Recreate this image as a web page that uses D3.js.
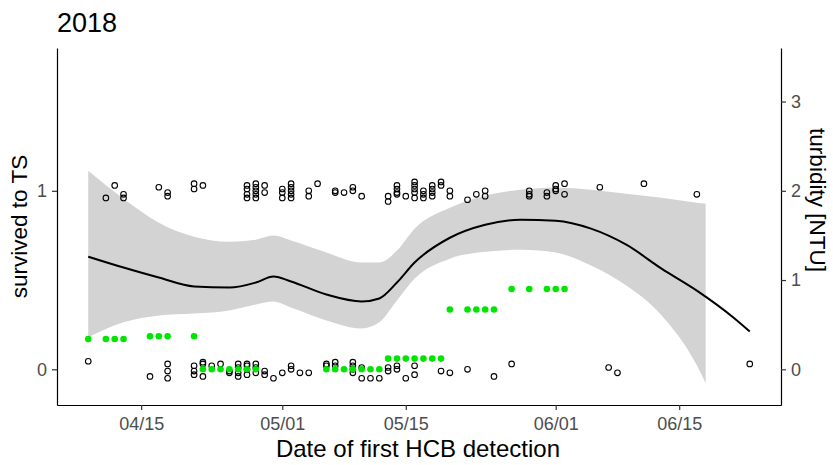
<!DOCTYPE html>
<html>
<head>
<meta charset="utf-8">
<script src="https://cdn.jsdelivr.net/npm/d3@7"></script>
<style>
  body { margin: 0; background: #fff; }
  text { font-family: "Liberation Sans", Arial, sans-serif; }
</style>
</head>
<body>
<div id="chart"></div>
<script>
// survival points (open circles), date + jittered value
var survDate = [
  "04-11","04-12","04-13","04-13","04-17","04-18","04-18","04-21","04-21","04-22",
  "04-27","04-27","04-27","04-27","04-28","04-28","04-28","04-28","04-28",
  "04-29","04-29","05-01","05-01","05-01","05-02","05-02","05-02","05-02","05-02",
  "05-04","05-04","05-05","05-07","05-07","05-08","05-09","05-09","05-10",
  "05-13","05-13","05-14","05-14","05-14","05-14","05-15",
  "05-16","05-16","05-16","05-16","05-16","05-17","05-17","05-17",
  "05-18","05-18","05-18","05-18","05-19","05-19","05-20","05-20",
  "05-22","05-23","05-24","05-24","05-29","05-29","05-29","05-31","05-31",
  "06-01","06-01","06-01","06-02","06-02","06-06","06-11","06-17",
  // zeros
  "04-09","04-16","04-18","04-18","04-18","04-21","04-21","04-21","04-22","04-22","04-22",
  "04-23","04-24","04-25","04-25","04-26","04-26","04-26","04-26",
  "04-27","04-27","04-27","04-27","04-28","04-28","04-28","04-29","04-29",
  "04-30","05-01","05-02","05-02","05-03","05-04","05-06","05-06","05-07","05-07",
  "05-09","05-09","05-09","05-09","05-10","05-10","05-11","05-12",
  "05-13","05-13","05-14","05-14","05-15","05-16","05-16","05-19","05-20",
  "05-22","05-25","05-27","06-07","06-08","06-23"
];
var survVal = [
  0.96,1.03,0.98,0.96,1.02,0.99,0.97,1.04,1.01,1.03,
  1.03,1.01,0.98,0.96,1.04,1.02,1.00,0.98,0.96,
  1.03,0.99,1.01,0.99,0.96,1.04,1.02,1.00,0.98,0.96,
  1.00,0.97,1.04,1.00,0.99,0.99,1.02,1.00,0.97,
  0.97,0.94,1.03,1.01,0.99,0.98,0.97,
  1.05,1.03,1.01,0.99,0.96,1.00,0.98,0.96,
  1.03,1.01,0.99,0.97,1.05,1.03,1.00,0.97,
  0.95,0.98,1.00,0.97,1.00,0.98,0.97,0.99,0.97,
  1.03,1.01,1.00,1.04,0.98,1.02,1.04,0.98,
  0.045,-0.04,0.03,-0.01,-0.05,0.02,-0.01,-0.03,0.04,0.03,-0.04,
  0.02,0.03,-0.02,-0.01,0.03,0.01,-0.02,-0.04,
  0.03,0.02,0.00,-0.03,0.03,0.01,-0.02,-0.01,-0.03,
  -0.05,-0.02,0.02,0.00,-0.02,-0.02,0.03,0.02,0.04,0.02,
  0.04,0.02,0.00,-0.02,0.01,-0.05,-0.05,-0.05,
  0.01,-0.01,0.02,0.00,-0.05,0.02,-0.03,-0.01,-0.02,
  0.00,-0.04,0.03,0.01,-0.02,0.03
];

// turbidity (green dots), NTU
var turbDate = [
  "04-09","04-11","04-12","04-13","04-16","04-17","04-18","04-21",
  "04-22","04-23","04-24","04-25","04-26","04-27","04-28",
  "05-06","05-07","05-08","05-09","05-10","05-11","05-12",
  "05-13","05-14","05-15","05-16","05-17","05-18","05-19",
  "05-20","05-22","05-23","05-24","05-25",
  "05-27","05-29","05-31","06-01","06-02"
];
var turbVal = [
  0.34,0.34,0.34,0.34,0.37,0.37,0.37,0.37,
  0,0,0,0,0,0,0,
  0,0,0,0,0,0,0,
  0.12,0.12,0.12,0.12,0.12,0.12,0.12,
  0.67,0.67,0.67,0.67,0.67,
  0.9,0.9,0.9,0.9,0.9
];

// smoother line and its confidence band
var fitDate = ["04-09","04-13","04-17","04-21","04-25","04-28","04-30","05-02","05-06","05-10",
  "05-12","05-14","05-16","05-20","05-24","05-28","06-01","06-05","06-09","06-13","06-17","06-21","06-23"];
var fitVal = [0.631,0.570,0.514,0.464,0.458,0.486,0.520,0.492,0.419,0.380,
  0.397,0.486,0.598,0.737,0.810,0.838,0.832,0.788,0.698,0.564,0.441,0.296,0.212];

var bandDate = ["04-09","04-13","04-17","04-21","04-25","04-28","04-30","05-02","05-06","05-10",
  "05-12","05-14","05-16","05-20","05-24","05-28","06-01","06-05","06-09","06-13","06-17","06-18"];
var bandHigh = [1.112,0.955,0.821,0.743,0.715,0.726,0.749,0.721,0.654,0.598,
  0.598,0.665,0.788,0.905,0.972,1.006,1.017,1.006,0.983,0.961,0.933,0.927];
var bandLow = [0.179,0.263,0.302,0.313,0.330,0.363,0.380,0.346,0.274,0.229,
  0.263,0.385,0.508,0.620,0.659,0.670,0.654,0.581,0.469,0.302,0.022,-0.078];

var xTicks = ["04-15","05-01","05-15","06-01","06-15"];
var ySurvTicks = [0, 1];
var yTurbTicks = [0, 1, 2, 3];

var parseDay = function(s) { return d3.utcParse("%Y-%m-%d")("2018-" + s); };

// dimensions and margins
var margin = {top: 48, right: 52, bottom: 60, left: 57},
width = 833 - margin.left - margin.right,
height = 465 - margin.top - margin.bottom;

var svg = d3.select("#chart")
.append("svg")
.attr("width", 833)
.attr("height", 465)
.append("g")
.attr("transform", "translate(" + margin.left + "," + margin.top + ")");

// scales
var x = d3.scaleUtc()
.domain([new Date(Date.UTC(2018, 3, 5, 11)), new Date(Date.UTC(2018, 5, 26, 13))])
.range([0, width]);

var y = d3.scaleLinear().domain([-0.2, 1.8]).range([height, 0]);
var y2 = d3.scaleLinear().domain([-0.4, 3.6]).range([height, 0]);

// confidence band
var band = bandDate.map(function(d, i) { return {date: parseDay(d), lo: bandLow[i], hi: bandHigh[i]}; });
svg.append("path")
.datum(band)
.attr("fill", "#d3d3d3")
.attr("d", d3.area()
  .curve(d3.curveMonotoneX)
  .x(function(d) { return x(d.date); })
  .y0(function(d) { return y(d.lo); })
  .y1(function(d) { return y(d.hi); }));

// smoother line
var fit = fitDate.map(function(d, i) { return {date: parseDay(d), v: fitVal[i]}; });
svg.append("path")
.datum(fit)
.attr("fill", "none")
.attr("stroke", "#000")
.attr("stroke-width", 2)
.attr("d", d3.line()
  .curve(d3.curveMonotoneX)
  .x(function(d) { return x(d.date); })
  .y(function(d) { return y(d.v); }));

// survival points
svg.selectAll(".surv")
.data(survDate.map(function(d, i) { return {date: parseDay(d), v: survVal[i]}; }))
.enter()
.append("circle")
  .attr("class", "surv")
  .attr("cx", function(d) { return x(d.date); })
  .attr("cy", function(d) { return y(d.v); })
  .attr("r", 2.8)
  .attr("fill", "none")
  .attr("stroke", "#000")
  .attr("stroke-width", 1.1);

// turbidity points
svg.selectAll(".turb")
.data(turbDate.map(function(d, i) { return {date: parseDay(d), v: turbVal[i]}; }))
.enter()
.append("circle")
  .attr("class", "turb")
  .attr("cx", function(d) { return x(d.date); })
  .attr("cy", function(d) { return y2(d.v); })
  .attr("r", 3.3)
  .attr("fill", "#00e600");

// axes
var xAxis = svg.append("g")
.attr("transform", "translate(0," + height + ")")
.call(d3.axisBottom(x).tickValues(xTicks.map(parseDay)).tickFormat(d3.utcFormat("%m/%d"))
  .tickSizeInner(5).tickSizeOuter(0).tickPadding(7));

var yAxis = svg.append("g")
.call(d3.axisLeft(y).tickValues(ySurvTicks).tickFormat(d3.format("d"))
  .tickSizeInner(5).tickSizeOuter(0).tickPadding(5));

var y2Axis = svg.append("g")
.attr("transform", "translate(" + width + ",0)")
.call(d3.axisRight(y2).tickValues(yTurbTicks).tickFormat(d3.format("d"))
  .tickSizeInner(5).tickSizeOuter(0).tickPadding(5));

[xAxis, yAxis, y2Axis].forEach(function(a) {
  a.select(".domain").attr("stroke", "#000").attr("stroke-width", 1.2);
  a.selectAll(".tick line").attr("stroke", "#333").attr("stroke-width", 1.2);
  a.selectAll(".tick text").attr("fill", "#4d4d4d").style("font-size", "18px")
    .style("font-family", "Liberation Sans, Arial, sans-serif");
});

// titles
svg.append("text")
.attr("x", 0)
.attr("y", -16)
.style("font-size", "27px")
.attr("fill", "#000")
.text("2018");

svg.append("text")
.attr("text-anchor", "middle")
.attr("x", 418 - margin.left)
.attr("y", height + 52)
.style("font-size", "24px")
.text("Date of first HCB detection");

svg.append("text")
.attr("text-anchor", "middle")
.attr("transform", "translate(-30," + (height / 2) + ") rotate(-90)")
.style("font-size", "22.5px")
.text("survived to TS");

svg.append("text")
.attr("text-anchor", "middle")
.attr("transform", "translate(" + (width + 29) + "," + (200 - margin.top) + ") rotate(90)")
.style("font-size", "22.5px")
.text("turbidity [NTU]");
</script>
</body>
</html>
